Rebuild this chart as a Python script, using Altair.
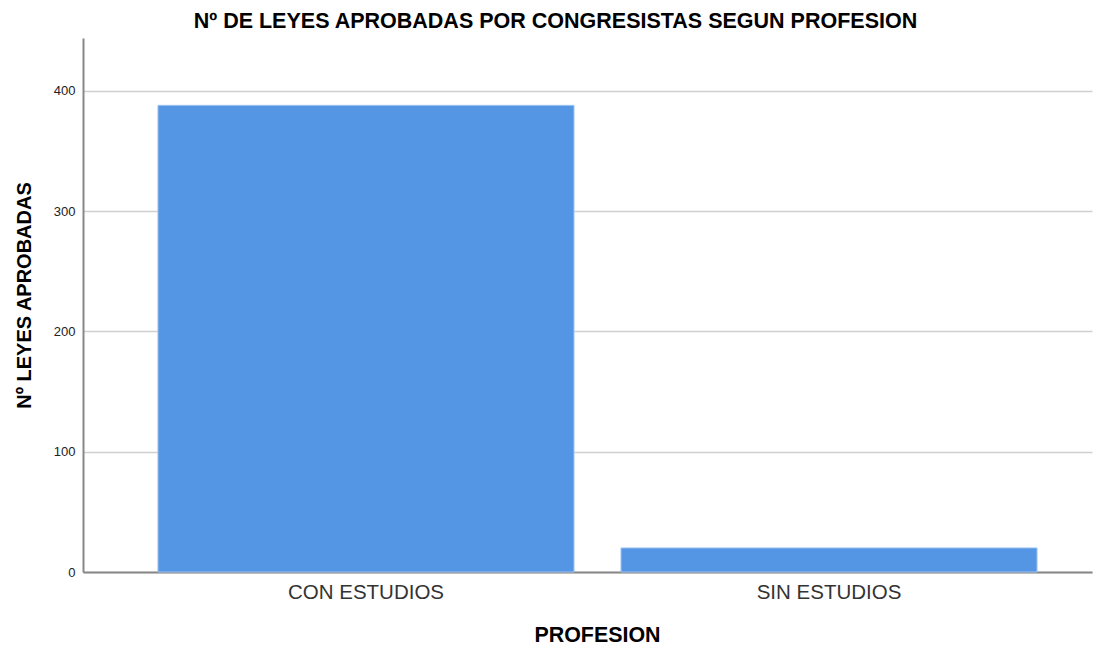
import altair as alt
import pandas as pd

categorias = ["CON ESTUDIOS", "SIN ESTUDIOS"]
leyes = [388, 20]

df = pd.DataFrame({"PROFESION": categorias, "LEYES": leyes})

FONT = "Liberation Sans"

chart = alt.Chart(df).mark_bar(
    color="#5596E4", stroke="#9EC3F0", strokeWidth=1
).encode(
    x=alt.X("PROFESION:N", sort=categorias,
            scale=alt.Scale(paddingInner=0.1015, paddingOuter=0.1403, align=0.577),
            axis=alt.Axis(title="PROFESION", labelAngle=0, ticks=False,
                          labelFontSize=20.5, labelColor="#333333", labelPadding=10,
                          titleFontSize=21.4, titleFontWeight="bold", titleColor="#000000",
                          titlePadding=22, titleX=514, titleAlign="center",
                          domainColor="#888888", domainWidth=2,
                          grid=False)),
    y=alt.Y("LEYES:Q", scale=alt.Scale(domain=[0, 444], nice=False),
            axis=alt.Axis(title="Nº LEYES APROBADAS", values=[0, 100, 200, 300, 400],
                          ticks=False, labelFontSize=13, labelColor="#222222",
                          labelPadding=8, titleFontSize=20, titleFontWeight="bold",
                          titleColor="#000000", titlePadding=19, titleY=257,
                          titleAlign="center",
                          domainColor="#888888", domainWidth=2,
                          gridColor="#d0d0d0", gridWidth=1.5))
).properties(
    width=1009, height=534,
    title=alt.TitleParams("Nº DE LEYES APROBADAS POR CONGRESISTAS SEGUN PROFESION",
                          fontSize=21.5, fontWeight="bold", font=FONT, color="#000000",
                          anchor="middle", offset=6, dx=-32),
    autosize=alt.AutoSizeParams(type="none"),
    padding={"left": 75, "top": 30, "right": 5, "bottom": 75}
).configure(font=FONT).configure_view(stroke=None).configure_axis(labelFont=FONT, titleFont=FONT)

chart.save("out.html", embed_options={"renderer": "svg", "actions": False})
